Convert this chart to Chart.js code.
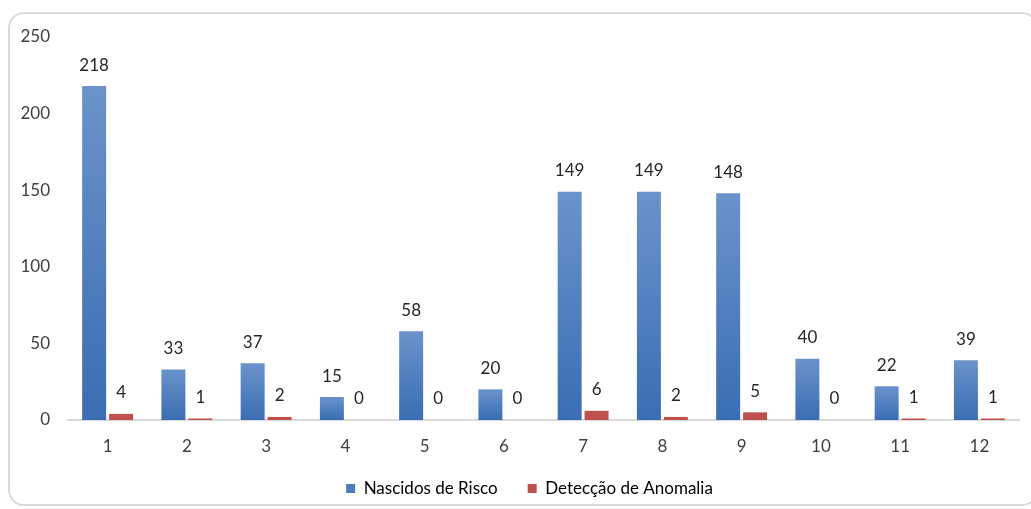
<!DOCTYPE html>
<html>
<head>
<meta charset="utf-8">
<script src="https://cdn.jsdelivr.net/npm/chart.js@4.4.0/dist/chart.umd.min.js"></script>
<style>
  html, body { margin: 0; padding: 0; background: #fff; }
  #wrap { position: relative; width: 1031px; height: 509px; overflow: hidden; }
  #card {
    position: absolute; left: 8px; top: 12px; width: 1030px; height: 494px;
    border: 2px solid #d9d9d9; border-radius: 16px; box-sizing: border-box;
  }
  canvas { position: absolute; left: 0; top: 0; }
</style>
</head>
<body>
<div id="wrap">
  <div id="card"></div>
  <canvas id="chart" width="1031" height="509"></canvas>
</div>
<script>
const months = ["1", "2", "3", "4", "5", "6", "7", "8", "9", "10", "11", "12"];
const nascidosRisco = [218, 33, 37, 15, 58, 20, 149, 149, 148, 40, 22, 39];
const deteccaoAnomalia = [4, 1, 2, 0, 0, 0, 6, 2, 5, 0, 1, 1];

const FONT = "Lato, 'Open Sans', sans-serif";

// gradient per bar, lighter at the top, darker at the base
const blueGradient = (ctx) => {
    const chart = ctx.chart;
    const y = chart.scales.y;
    if (!y || ctx.type !== "data") return "#4a7ebb";
    const top = y.getPixelForValue(ctx.raw);
    const base = y.getPixelForValue(0);
    if (!isFinite(top) || base - top < 1) return "#4a7ebb";
    const g = chart.ctx.createLinearGradient(0, top, 0, base);
    g.addColorStop(0, "#6a93cb");
    g.addColorStop(1, "#3a6db3");
    return g;
};

const valueLabels = {
    id: "valueLabels",
    afterDatasetsDraw(chart) {
        const { ctx } = chart;
        ctx.save();
        ctx.font = "17px " + FONT;
        ctx.fillStyle = "#262626";
        ctx.textAlign = "center";
        ctx.textBaseline = "middle";
        chart.data.datasets.forEach((ds, i) => {
            chart.getDatasetMeta(i).data.forEach((bar, j) => {
                ctx.fillText(String(ds.data[j]), bar.x, bar.y - 21);
            });
        });
        ctx.restore();
    }
};

// x labels need room below their short box, legend sits a bit right of centre
const tweakLayout = {
    id: "tweakLayout",
    beforeDraw(chart) {
        chart.scales.x.bottom = chart.height;
        if (!chart.legend._shifted) {
            chart.legend.left += 20;
            chart.legend.right += 20;
            chart.legend._shifted = true;
        }
    }
};

new Chart(document.getElementById("chart"), {
    type: "bar",
    data: {
        labels: months,
        datasets: [{
            label: "Nascidos de Risco",
            data: nascidosRisco,
            backgroundColor: blueGradient,
            categoryPercentage: 0.68,
            barPercentage: 0.89,
        }, {
            label: "Detecção de Anomalia",
            data: deteccaoAnomalia,
            backgroundColor: "#c0504d",
            categoryPercentage: 0.68,
            barPercentage: 0.89,
        }]
    },
    options: {
        responsive: false,
        animation: false,
        layout: { padding: { left: 0, right: 12, top: 37, bottom: 2 } },
        scales: {
            y: {
                min: 0,
                max: 250,
                ticks: { stepSize: 50, padding: 18, color: "#404040", font: { family: FONT, size: 17 } },
                grid: { display: false, drawTicks: false },
                border: { display: false },
                afterFit: (s) => { s.width = 68; }
            },
            x: {
                ticks: { padding: 16, color: "#404040", font: { family: FONT, size: 17 } },
                grid: { display: false, drawTicks: false },
                border: { display: true, color: "#d9d9d9", width: 2 },
                afterFit: (s) => { s.height = 30; }
            }
        },
        plugins: {
            legend: {
                position: "bottom",
                labels: {
                    color: "#404040",
                    font: { family: FONT, size: 17 },
                    boxWidth: 9,
                    boxHeight: 9,
                    padding: 30,
                    generateLabels: (chart) => chart.data.datasets.map((ds, i) => ({
                        text: ds.label,
                        fillStyle: i === 0 ? "#4a7ebb" : "#c0504d",
                        strokeStyle: "transparent",
                        lineWidth: 0,
                        datasetIndex: i,
                        hidden: false
                    }))
                }
            },
            tooltip: { enabled: false }
        }
    },
    plugins: [valueLabels, tweakLayout]
});
</script>
</body>
</html>
